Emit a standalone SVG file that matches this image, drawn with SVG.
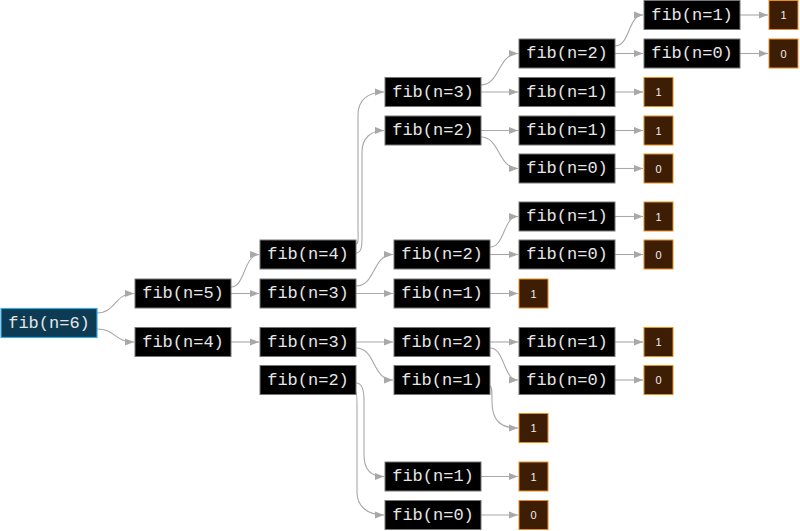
<svg xmlns="http://www.w3.org/2000/svg" width="800" height="531" viewBox="0 0 800 531">
<defs>
<style>
.fn rect{fill:#000;stroke:#777;stroke-width:1}
.rt rect{fill:#0c3b53;stroke:#3fa9dc;stroke-width:1.2}
.lf rect{fill:#3d1d04;stroke:#e8901c;stroke-width:1}
.fn text,.rt text{font-family:"Liberation Mono","DejaVu Sans Mono",monospace;font-size:17px;fill:#e6e6e6;text-anchor:middle;dominant-baseline:central}
.lf text{font-family:"Liberation Sans",Arial,sans-serif;font-size:11px;fill:#f0f0f0;text-anchor:middle;dominant-baseline:central}
#edges path{fill:none;stroke:#a8a8a8;stroke-width:1.1;marker-end:url(#ah)}
</style>
<marker id="ah" markerWidth="10" markerHeight="8" refX="9" refY="4" orient="auto" markerUnits="userSpaceOnUse"><path d="M0,0.5 L9,4 L0,7.5 Z" fill="#a8a8a8"/></marker>
</defs>
<rect width="800" height="531" fill="#fff"/>
<g id="edges">
<path d="M97,313 C116,313 114,293.5 134,293.5"/>
<path d="M97,329 C116,329 114,342 134,342"/>
<path d="M231,287 C245,287 244,254.5 259,254.5"/>
<path d="M231,293.5 L259,293.5"/>
<path d="M231,342 L259,342"/>
<path d="M356,244 C359,244 358,236 358,225 L358,115 C358,100 368,92 384,92"/>
<path d="M356,253 C362,253 362,245 362,235 L362,152 C362,138 371,130.5 384,130.5"/>
<path d="M356,286 C376,286 372,254.5 393,254.5"/>
<path d="M356,293.5 L393,293.5"/>
<path d="M356,342 L393,342"/>
<path d="M356,348 C376,348 372,380 393,380"/>
<path d="M356,383 C362,383 364,390 364,400 L364,455 C364,470 371,476.5 384,476.5"/>
<path d="M356,392 C357,392 357,398 357,410 L357,492 C357,506 367,515 384,515"/>
<path d="M481,85 C500,85 498,53.5 518,53.5"/>
<path d="M481,92 L518,92"/>
<path d="M481,130.5 L518,130.5"/>
<path d="M481,137 C500,137 498,168.5 518,168.5"/>
<path d="M490,247 C505,247 503,216.5 518,216.5"/>
<path d="M490,254.5 L518,254.5"/>
<path d="M490,293.5 L518,293.5"/>
<path d="M490,342 L518,342"/>
<path d="M490,348 C505,348 503,380 518,380"/>
<path d="M490,386 C492,386 492,392 492,402 C492,420 500,428 518,428"/>
<path d="M481,476.5 L518,476.5"/>
<path d="M481,515 L518,515"/>
<path d="M615,46 C630,46 628,15 643,15"/>
<path d="M615,53.5 L643,53.5"/>
<path d="M615,92 L643,92"/>
<path d="M615,130.5 L643,130.5"/>
<path d="M615,168.5 L643,168.5"/>
<path d="M615,216.5 L643,216.5"/>
<path d="M615,254.5 L643,254.5"/>
<path d="M615,342 L643,342"/>
<path d="M615,380 L643,380"/>
<path d="M740,15 L768,15"/>
<path d="M740,53.5 L768,53.5"/>
</g>
<g id="n6" class="rt"><rect x="1" y="308.5" width="96" height="29"/><text x="49" y="323">fib(n=6)</text></g>
<g id="n5a" class="fn"><rect x="135" y="279" width="96" height="29"/><text x="183" y="293.5">fib(n=5)</text></g>
<g id="n4a" class="fn"><rect x="135" y="327.5" width="96" height="29"/><text x="183" y="342">fib(n=4)</text></g>
<g id="n4b" class="fn"><rect x="260" y="240" width="96" height="29"/><text x="308" y="254.5">fib(n=4)</text></g>
<g id="n3b" class="fn"><rect x="260" y="279" width="96" height="29"/><text x="308" y="293.5">fib(n=3)</text></g>
<g id="n3c" class="fn"><rect x="260" y="327.5" width="96" height="29"/><text x="308" y="342">fib(n=3)</text></g>
<g id="n2c" class="fn"><rect x="260" y="365.5" width="96" height="29"/><text x="308" y="380">fib(n=2)</text></g>
<g id="n3d" class="fn"><rect x="385" y="77.5" width="96" height="29"/><text x="433" y="92">fib(n=3)</text></g>
<g id="n2d" class="fn"><rect x="385" y="116" width="96" height="29"/><text x="433" y="130.5">fib(n=2)</text></g>
<g id="n1e" class="fn"><rect x="385" y="462" width="96" height="29"/><text x="433" y="476.5">fib(n=1)</text></g>
<g id="n0e" class="fn"><rect x="385" y="500.5" width="96" height="29"/><text x="433" y="515">fib(n=0)</text></g>
<g id="n2f" class="fn"><rect x="394" y="240" width="96" height="29"/><text x="442" y="254.5">fib(n=2)</text></g>
<g id="n1f" class="fn"><rect x="394" y="279" width="96" height="29"/><text x="442" y="293.5">fib(n=1)</text></g>
<g id="n2g" class="fn"><rect x="394" y="327.5" width="96" height="29"/><text x="442" y="342">fib(n=2)</text></g>
<g id="n1g" class="fn"><rect x="394" y="365.5" width="96" height="29"/><text x="442" y="380">fib(n=1)</text></g>
<g id="n2h" class="fn"><rect x="519" y="39" width="96" height="29"/><text x="567" y="53.5">fib(n=2)</text></g>
<g id="n1h" class="fn"><rect x="519" y="77.5" width="96" height="29"/><text x="567" y="92">fib(n=1)</text></g>
<g id="n1i" class="fn"><rect x="519" y="116" width="96" height="29"/><text x="567" y="130.5">fib(n=1)</text></g>
<g id="n0i" class="fn"><rect x="519" y="154" width="96" height="29"/><text x="567" y="168.5">fib(n=0)</text></g>
<g id="n1j" class="fn"><rect x="519" y="202" width="96" height="29"/><text x="567" y="216.5">fib(n=1)</text></g>
<g id="n0j" class="fn"><rect x="519" y="240" width="96" height="29"/><text x="567" y="254.5">fib(n=0)</text></g>
<g id="n1k" class="fn"><rect x="519" y="327.5" width="96" height="29"/><text x="567" y="342">fib(n=1)</text></g>
<g id="n0k" class="fn"><rect x="519" y="365.5" width="96" height="29"/><text x="567" y="380">fib(n=0)</text></g>
<g id="n1l" class="fn"><rect x="644" y="0.5" width="96" height="29"/><text x="692" y="15">fib(n=1)</text></g>
<g id="n0l" class="fn"><rect x="644" y="39" width="96" height="29"/><text x="692" y="53.5">fib(n=0)</text></g>
<g id="r1a" class="lf"><rect x="769" y="0.5" width="29" height="29"/><text x="783.5" y="15">1</text></g>
<g id="r0a" class="lf"><rect x="769" y="39" width="29" height="29"/><text x="783.5" y="53.5">0</text></g>
<g id="r1b" class="lf"><rect x="644" y="77.5" width="29" height="29"/><text x="658.5" y="92">1</text></g>
<g id="r1c" class="lf"><rect x="644" y="116" width="29" height="29"/><text x="658.5" y="130.5">1</text></g>
<g id="r0c" class="lf"><rect x="644" y="154" width="29" height="29"/><text x="658.5" y="168.5">0</text></g>
<g id="r1d" class="lf"><rect x="644" y="202" width="29" height="29"/><text x="658.5" y="216.5">1</text></g>
<g id="r0d" class="lf"><rect x="644" y="240" width="29" height="29"/><text x="658.5" y="254.5">0</text></g>
<g id="r1e" class="lf"><rect x="644" y="327.5" width="29" height="29"/><text x="658.5" y="342">1</text></g>
<g id="r0e" class="lf"><rect x="644" y="365.5" width="29" height="29"/><text x="658.5" y="380">0</text></g>
<g id="r1f" class="lf"><rect x="519" y="279" width="29" height="29"/><text x="533.5" y="293.5">1</text></g>
<g id="r1g" class="lf"><rect x="519" y="413.5" width="29" height="29"/><text x="533.5" y="428">1</text></g>
<g id="r1h" class="lf"><rect x="519" y="462" width="29" height="29"/><text x="533.5" y="476.5">1</text></g>
<g id="r0h" class="lf"><rect x="519" y="500.5" width="29" height="29"/><text x="533.5" y="515">0</text></g>
</svg>
